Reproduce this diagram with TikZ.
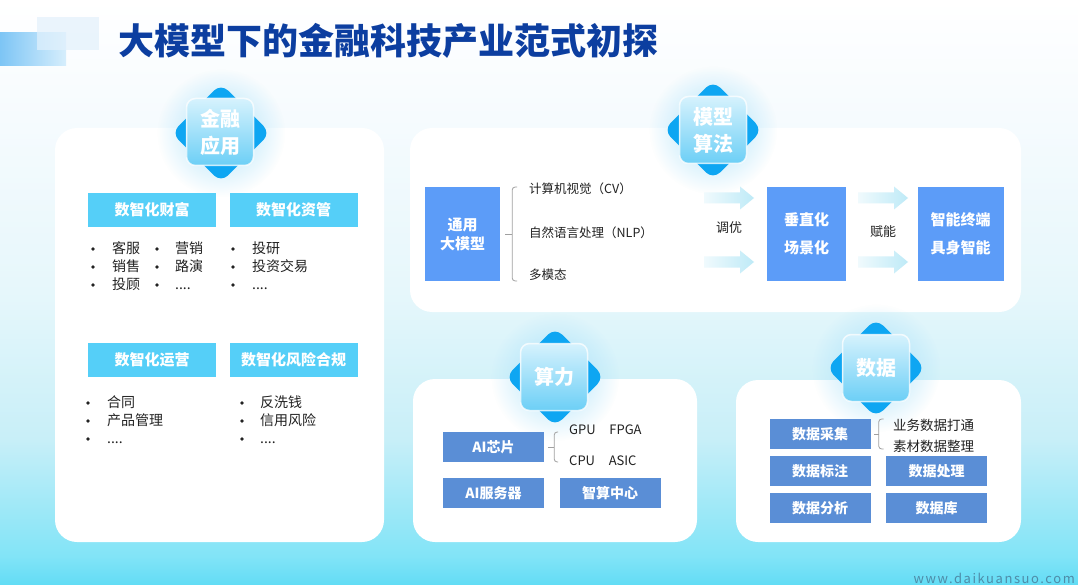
\documentclass[tikz,border=0pt]{standalone}
\usepackage{fontspec}
\setmainfont{Noto Sans CJK SC}
\usetikzlibrary{calc, fadings}

\definecolor{titleblue}{RGB}{12,62,160}
\definecolor{headcyan}{RGB}{85,207,248}
\definecolor{algoblue}{RGB}{92,156,248}
\definecolor{steelblue}{RGB}{90,142,214}
\definecolor{textdark}{RGB}{34,34,34}
\definecolor{bracegray}{RGB}{160,160,160}
\definecolor{diamblue}{RGB}{14,166,242}
\definecolor{glasstop}{RGB}{214,242,253}
\definecolor{glassbot}{RGB}{108,207,246}
\definecolor{glowblue}{RGB}{165,224,250}
\definecolor{arrowl}{RGB}{240,250,253}
\definecolor{arrowr}{RGB}{190,234,247}
\definecolor{wmblue}{RGB}{78,140,168}
\definecolor{decol}{RGB}{125,197,245}
\definecolor{decor}{RGB}{214,238,252}
\definecolor{decolight}{RGB}{226,241,252}
\definecolor{bg0}{RGB}{98,220,245}
\definecolor{bg1}{RGB}{130,228,247}
\definecolor{bg2}{RGB}{200,239,248}
\definecolor{bg3}{RGB}{230,247,251}
\definecolor{bg4}{RGB}{246,251,254}

\pgfdeclareverticalshading{bgshade}{100bp}{color(0bp)=(bg0); color(25bp)=(bg0); color(27.5bp)=(bg1);
  color(37.5bp)=(bg2); color(50bp)=(bg3); color(65bp)=(bg4); color(75bp)=(white); color(100bp)=(white)}
\tikzfading[name=glowfade, inner color=transparent!0, outer color=transparent!100]
\newcommand\moredots{....}

\begin{document}
\begin{tikzpicture}[x=1pt, y=-1pt,
    panel/.style={fill=white, rounded corners=22pt},
    subhead/.style={fill=headcyan, text=white, font=\bfseries\fontsize{15}{18}\selectfont,
      minimum width=128pt, minimum height=34pt, inner sep=0pt},
    algobox/.style={fill=algoblue, text=white, align=center, inner sep=0pt,
      font=\bfseries\fontsize{15}{28}\selectfont},
    calcbox/.style={fill=steelblue, text=white, font=\bfseries\fontsize{14}{17}\selectfont,
      minimum width=101pt, minimum height=30pt, inner sep=0pt},
    sidetxt/.style={anchor=west, text=textdark, font=\fontsize{12.5}{15}\selectfont, inner sep=0pt},
    item/.style={anchor=west, text=textdark, font=\fontsize{14}{17}\selectfont, inner sep=0pt,
      text height=12pt, text depth=2.5pt},
    dot/.style={fill=textdark, circle, inner sep=0pt, minimum size=3.6pt},
    brace/.style={draw=bracegray, line width=0.8pt, rounded corners=3pt},
    badgeglow/.style={fill=glowblue, path fading=glowfade, opacity=0.9},
    badgediam/.style={fill=diamblue, rotate=45, minimum size=70pt, rounded corners=10pt, inner sep=0pt},
    badgeglass/.style={top color=glasstop, bottom color=glassbot, draw=white, draw opacity=0.75,
      line width=1.5pt, rounded corners=9pt, minimum size=67pt, inner sep=0pt, align=center,
      text=white, font=\bfseries\fontsize{20}{27}\selectfont},
    barrow/.pic={\shade[left color=arrowl, right color=arrowr]
      (0,-5.5) -- (36,-5.5) -- (36,-11.5) -- (50,0) -- (36,11.5) -- (36,5.5) -- (0,5.5) -- cycle;}
  ]
  \useasboundingbox (0,0) rectangle (1078,585);

  % --- background and title ---
  \shade[shading=bgshade] (0,0) rectangle (1078,585);
  \shade[left color=decol, right color=decor] (0,33) rectangle (66,66);
  \fill[decolight, opacity=0.7] (37,17) rectangle (99,50);
  \node[anchor=west, inner sep=0pt, text=titleblue, font=\bfseries\fontsize{36}{40}\selectfont]
    (title) at (118,41) {大模型下的金融科技产业范式初探};

  % --- panels ---
  \fill[panel] (55,128) rectangle (384,542);
  \fill[panel] (410,128) rectangle (1021,312);
  \fill[panel] (413,379) rectangle (697,542);
  \fill[panel] (736,380) rectangle (1021,542);

  % --- badges ---
  \foreach \c in {(221,133), (713,130), (555,377), (876,368)} {
    \fill[badgeglow] \c circle (64);
    \node[badgediam] at \c {};
  }
  \node[badgeglass] (bjr) at (220,132) {金融\\应用};
  \node[badgeglass] (bmx) at (713,130) {模型\\算法};
  \node[badgeglass] (bsl) at (554,377) {算力};
  \node[badgeglass] (bsj) at (876,368) {数据};

  % --- (a) financial applications ---
  \node[subhead] (cf) at (152,210) {数智化财富};
  \node[subhead] (zg) at (293.5,210) {数智化资管};
  \node[subhead] (yy) at (152,360) {数智化运营};
  \node[subhead] (fx) at (293.5,360) {数智化风险合规};

  \foreach \t [count=\i] in {客服,销售,投顾} {
    \node[dot] (da\i) at (93,{231+18*\i}) {};
    \node[item] (ta\i) at (112,{231+18*\i}) {\t};
  }
  \foreach \t [count=\i] in {营销,路演,\moredots} {
    \node[dot] (db\i) at (157,{231+18*\i}) {};
    \node[item] (tb\i) at (175,{231+18*\i}) {\t};
  }
  \foreach \t [count=\i] in {投研,投资交易,\moredots} {
    \node[dot] (dc\i) at (233,{231+18*\i}) {};
    \node[item] (tc\i) at (252,{231+18*\i}) {\t};
  }
  \foreach \t [count=\i] in {合同,产品管理,\moredots} {
    \node[dot] (dd\i) at (88,{385+18*\i}) {};
    \node[item] (td\i) at (107,{385+18*\i}) {\t};
  }
  \foreach \t [count=\i] in {反洗钱,信用风险,\moredots} {
    \node[dot] (de\i) at (242,{385+18*\i}) {};
    \node[item] (te\i) at (260,{385+18*\i}) {\t};
  }

  % --- (b) model algorithms ---
  \node[algobox, minimum width=75pt, minimum height=94pt, font=\bfseries\fontsize{15}{19}\selectfont]
    (ty) at (462.5,234) {通用\\大模型};
  \node[algobox, minimum width=79pt, minimum height=94pt] (cj) at (806.5,234) {垂直化\\场景化};
  \node[algobox, minimum width=86pt, minimum height=94pt] (zn) at (960.5,234) {智能终端\\具身智能};

  \node[sidetxt] (cv) at (529,189) {计算机视觉（CV）};
  \node[sidetxt] (nlp) at (529,233) {自然语言处理（NLP）};
  \node[sidetxt] (mm) at (529,275) {多模态};
  \draw[brace] ($(ty.east)+(17,-47)$) -- ($(ty.east)+(12,-47)$) -- ($(ty.east)+(12,47)$) -- ($(ty.east)+(17,47)$);
  \draw[brace] ($(ty.east)+(12,0)$) -- ($(ty.east)+(5,0)$);

  \pic at (704,198) {barrow};
  \pic at (704,262) {barrow};
  \pic at (858,198) {barrow};
  \pic at (858,262) {barrow};
  \node[text=textdark, font=\fontsize{13}{15}\selectfont] (ty2) at (729,228) {调优};
  \node[text=textdark, font=\fontsize{13}{15}\selectfont] (fn) at (883,232) {赋能};

  % --- (c) computing power ---
  \node[calcbox] (xp) at (493.5,447) {AI芯片};
  \node[calcbox] (fw) at (493.5,493) {AI服务器};
  \node[calcbox] (zs) at (610,493) {智算中心};
  \node[sidetxt, font=\fontsize{13}{15}\selectfont] (gpu) at (569,430) {GPU\hspace{1.05em}FPGA};
  \node[sidetxt, font=\fontsize{13}{15}\selectfont] (cpu) at (569,461) {CPU\hspace{1.05em}ASIC};
  \draw[brace] ($(xp.east)+(14,-15)$) -- ($(xp.east)+(10,-15)$) -- ($(xp.east)+(10,15)$) -- ($(xp.east)+(14,15)$);
  \draw[brace] ($(xp.east)+(10,0)$) -- ($(xp.east)+(4,0)$);

  % --- (d) data ---
  \node[calcbox] (cjj) at (820,434) {数据采集};
  \node[calcbox] (bz) at (820,471) {数据标注};
  \node[calcbox] (cl) at (936.5,471) {数据处理};
  \node[calcbox] (fx2) at (820,508) {数据分析};
  \node[calcbox] (sjk) at (936.5,508) {数据库};
  \node[sidetxt, font=\fontsize{13.5}{16}\selectfont] (yw) at (893,425) {业务数据打通};
  \node[sidetxt, font=\fontsize{13.5}{16}\selectfont] (sc) at (893,446) {素材数据整理};
  \draw[brace] ($(cjj.east)+(13,-15)$) -- ($(cjj.east)+(8,-15)$) -- ($(cjj.east)+(8,15)$) -- ($(cjj.east)+(13,15)$);
  \draw[brace] ($(cjj.east)+(8,0)$) -- ($(cjj.east)+(3,0)$);

  \node[anchor=east, inner sep=0pt, text=wmblue, font=\fontsize{13}{15}\selectfont\addfontfeatures{LetterSpace=12}]
    (wm) at (1075,578) {www.daikuansuo.com};
\end{tikzpicture}
\end{document}
